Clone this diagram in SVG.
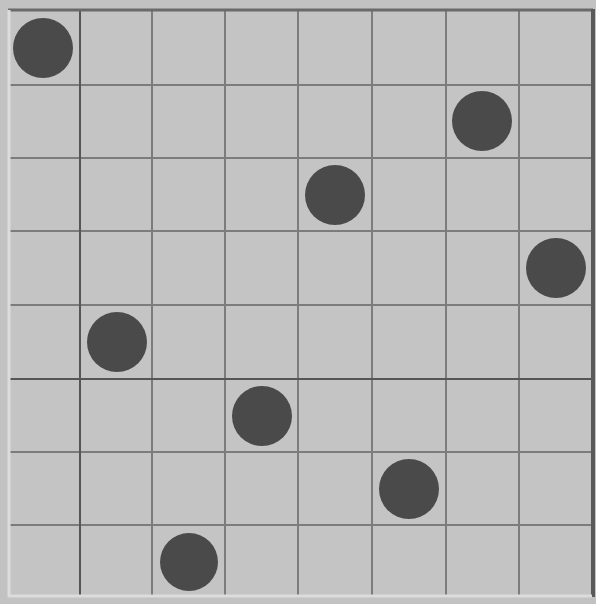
<svg xmlns="http://www.w3.org/2000/svg" width="596" height="604" viewBox="0 0 596 604">
<style>
.g{stroke:#7c7c7c;stroke-width:2;fill:none}
.gd{stroke:#555;stroke-width:2;fill:none}
.q{fill:#4a4a4a}
</style>
<rect x="0" y="0" width="596" height="604" fill="#c2c2c2"/>
<rect x="9" y="10" width="584" height="586" fill="#c4c4c4"/>
<g id="grid">
<line class="g" x1="152" y1="10" x2="152" y2="596"/>
<line class="g" x1="225" y1="10" x2="225" y2="596"/>
<line class="g" x1="298" y1="10" x2="298" y2="596"/>
<line class="g" x1="372" y1="10" x2="372" y2="596"/>
<line class="g" x1="446" y1="10" x2="446" y2="596"/>
<line class="g" x1="519" y1="10" x2="519" y2="596"/>
<line class="g" x1="9" y1="85" x2="593" y2="85"/>
<line class="g" x1="9" y1="158" x2="593" y2="158"/>
<line class="g" x1="9" y1="231" x2="593" y2="231"/>
<line class="g" x1="9" y1="305" x2="593" y2="305"/>
<line class="g" x1="9" y1="452" x2="593" y2="452"/>
<line class="g" x1="9" y1="525" x2="593" y2="525"/>
<line class="gd" x1="80" y1="10" x2="80" y2="596"/>
<line class="gd" x1="9" y1="379" x2="593" y2="379"/>
</g>
<g id="frame">
<line x1="8" y1="10" x2="593" y2="10" stroke="#6a6a6a" stroke-width="3"/>
<line x1="593" y1="9" x2="593" y2="597" stroke="#5a5a5a" stroke-width="4"/>
<line x1="9" y1="10" x2="9" y2="597" stroke="#dcdcdc" stroke-width="3"/>
<line x1="8" y1="596" x2="592" y2="596" stroke="#dcdcdc" stroke-width="3"/>
</g>
<g id="queens">
<circle class="q" cx="43" cy="48" r="30"/>
<circle class="q" cx="482" cy="121" r="30"/>
<circle class="q" cx="335" cy="195" r="30"/>
<circle class="q" cx="556" cy="268" r="30"/>
<circle class="q" cx="117" cy="342" r="30"/>
<circle class="q" cx="262" cy="416" r="30"/>
<circle class="q" cx="409" cy="489" r="30"/>
<circle class="q" cx="189" cy="562" r="29"/>
</g>
</svg>
